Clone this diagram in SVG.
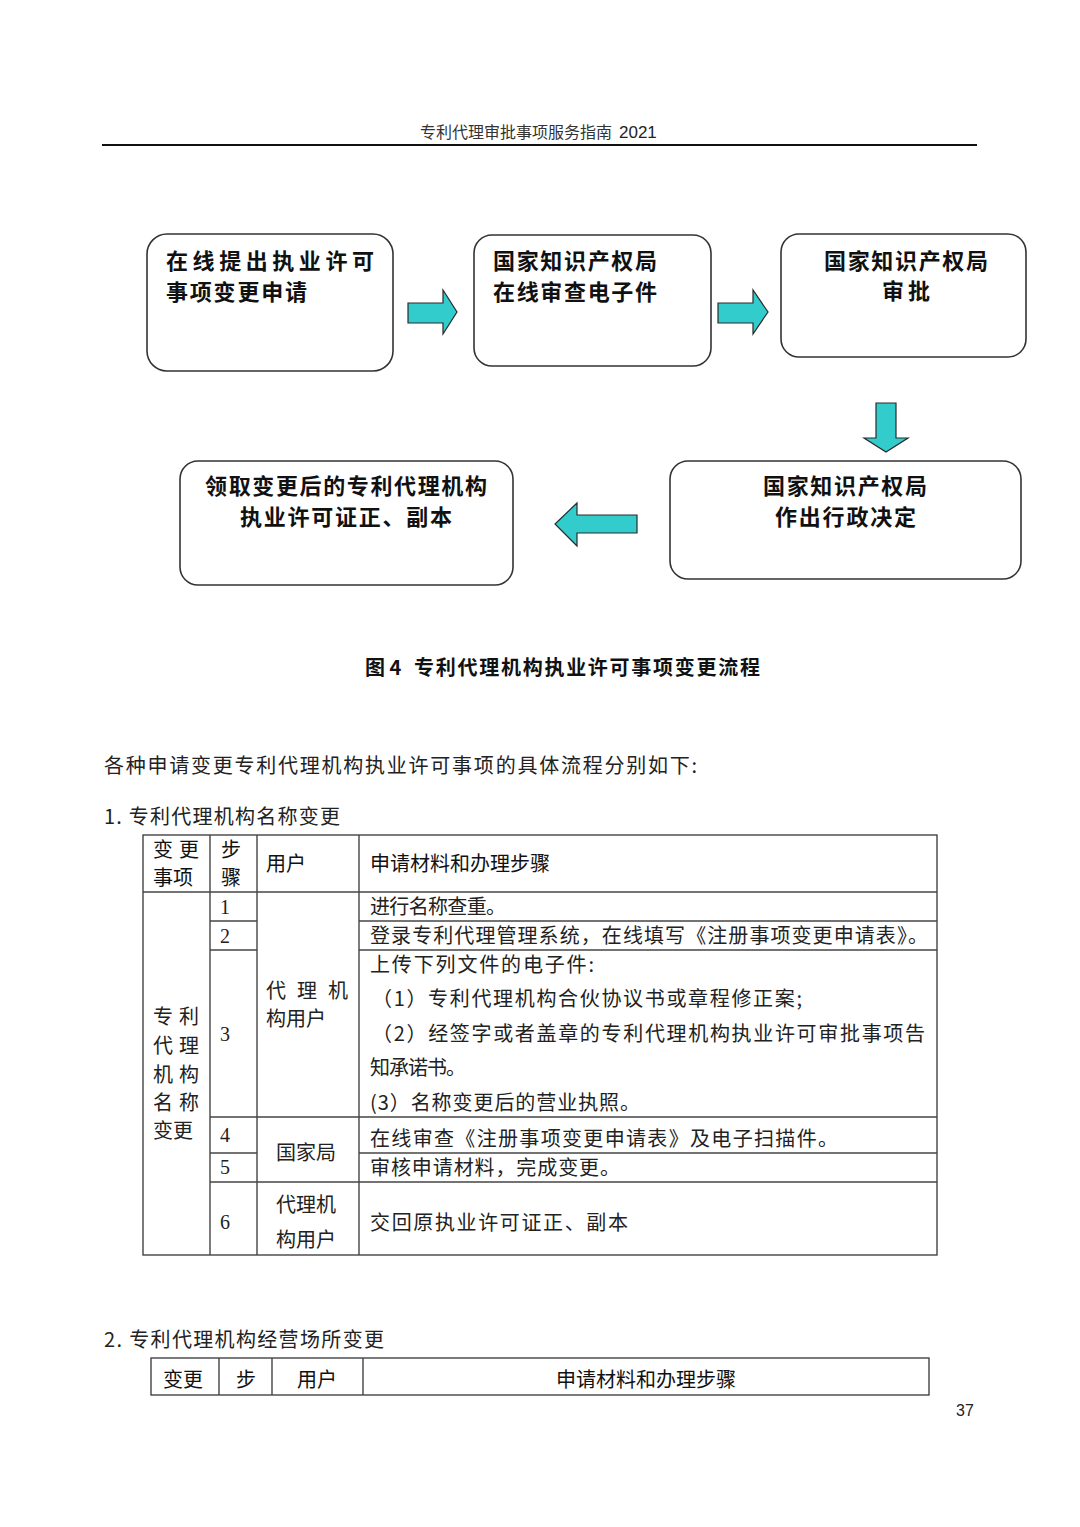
<svg xmlns="http://www.w3.org/2000/svg" width="1080" height="1527" viewBox="0 0 1080 1527">
<style>
.bg{fill:#ffffff}
.box{fill:#ffffff;stroke:#333333;stroke-width:1.6}
.arrow{fill:#33CCCC;stroke:#2a2a2a;stroke-width:1.2;stroke-linejoin:miter}
.ft{font-family:"Noto Sans CJK SC","Noto Sans",sans-serif;font-size:22px;font-weight:bold;fill:#111111}
.hd{font-family:"Noto Sans CJK SC","Noto Sans",sans-serif;font-size:16px;fill:#333333}
.cap{font-family:"Noto Sans CJK SC","Noto Sans",sans-serif;font-size:20px;font-weight:bold;fill:#111111}
.bt{font-family:"Noto Sans CJK SC","Noto Sans",sans-serif;font-size:20px;fill:#222222}
.th{font-family:"Noto Sans CJK SC","Noto Sans",sans-serif;font-size:20px;fill:#111111}
.num{font-family:"Liberation Serif","DejaVu Serif",serif;font-size:20px;fill:#222222}
.tl{stroke:#444444;stroke-width:1.4;fill:none}
</style>
<rect class="bg" x="0" y="0" width="1080" height="1527"/>

<g id="header">
<text class="hd" x="420" y="138" textLength="192" lengthAdjust="spacingAndGlyphs">专利代理审批事项服务指南</text>
<text x="619" y="138" font-family="Liberation Sans, sans-serif" font-size="17" fill="#222">2021</text>
<line x1="102" y1="145" x2="977" y2="145" stroke="#111" stroke-width="2"/>
</g>

<g id="node1">
<rect class="box" x="147" y="234" width="246" height="137" rx="20"/>
<text class="ft" x="166" y="269" textLength="208" lengthAdjust="spacing">在线提出执业许可</text>
<text class="ft" x="166" y="300" textLength="141" lengthAdjust="spacing">事项变更申请</text>
</g>
<g id="node2">
<rect class="box" x="474" y="235" width="237" height="131" rx="18"/>
<text class="ft" x="493" y="269" textLength="164" lengthAdjust="spacing">国家知识产权局</text>
<text class="ft" x="493" y="300" textLength="164" lengthAdjust="spacing">在线审查电子件</text>
</g>
<g id="node3">
<rect class="box" x="781" y="234" width="245" height="123" rx="18"/>
<text class="ft" x="824" y="269" textLength="164" lengthAdjust="spacing">国家知识产权局</text>
<text class="ft" x="882" y="299" textLength="48" lengthAdjust="spacing">审批</text>
</g>
<g id="node4">
<rect class="box" x="670" y="461" width="351" height="118" rx="18"/>
<text class="ft" x="763" y="494" textLength="164" lengthAdjust="spacing">国家知识产权局</text>
<text class="ft" x="775" y="525" textLength="141" lengthAdjust="spacing">作出行政决定</text>
</g>
<g id="node5">
<rect class="box" x="180" y="461" width="333" height="124" rx="18"/>
<text class="ft" x="205" y="494" textLength="282" lengthAdjust="spacing">领取变更后的专利代理机构</text>
<text class="ft" x="240" y="525" textLength="212" lengthAdjust="spacing">执业许可证正、副本</text>
</g>

<g id="connectors">
<polygon class="arrow" points="408,303 443,303 443,290 457,312 443,334 443,323 408,323"/>
<polygon class="arrow" points="718,303 753,303 753,290 768,312 753,334 753,323 718,323"/>
<polygon class="arrow" points="876,403 896,403 896,438 908,438 886,452 864,438 876,438"/>
<polygon class="arrow" points="637,515 577,515 577,503 555,524 577,546 577,533 637,533"/>
</g>

<g id="caption">
<text class="cap" x="365" y="675">图 4</text>
<text class="cap" x="414" y="675" textLength="346" lengthAdjust="spacing">专利代理机构执业许可事项变更流程</text>
</g>

<g id="intro">
<text class="bt" x="104" y="773" textLength="593" lengthAdjust="spacing">各种申请变更专利代理机构执业许可事项的具体流程分别如下:</text>
<text class="bt" x="104" y="824" textLength="236" lengthAdjust="spacing">1. 专利代理机构名称变更</text>
</g>

<g id="table1">
<rect class="tl" x="143" y="835" width="794" height="420"/>
<line class="tl" x1="210" y1="835" x2="210" y2="1255"/>
<line class="tl" x1="257" y1="835" x2="257" y2="1255"/>
<line class="tl" x1="359" y1="835" x2="359" y2="1255"/>
<line class="tl" x1="143" y1="892" x2="937" y2="892"/>
<line class="tl" x1="210" y1="921" x2="257" y2="921"/>
<line class="tl" x1="359" y1="921" x2="937" y2="921"/>
<line class="tl" x1="210" y1="950" x2="257" y2="950"/>
<line class="tl" x1="359" y1="950" x2="937" y2="950"/>
<line class="tl" x1="210" y1="1117" x2="937" y2="1117"/>
<line class="tl" x1="210" y1="1153" x2="257" y2="1153"/>
<line class="tl" x1="359" y1="1153" x2="937" y2="1153"/>
<line class="tl" x1="210" y1="1182" x2="937" y2="1182"/>

<text class="th" x="153" y="857" textLength="46" lengthAdjust="spacing">变更</text>
<text class="th" x="153" y="885">事项</text>
<text class="th" x="221" y="857">步</text>
<text class="th" x="221" y="885">骤</text>
<text class="th" x="266" y="871">用户</text>
<text class="th" x="370" y="871">申请材料和办理步骤</text>

<text class="bt" x="153" y="1024" textLength="46" lengthAdjust="spacing">专利</text>
<text class="bt" x="153" y="1053" textLength="46" lengthAdjust="spacing">代理</text>
<text class="bt" x="153" y="1082" textLength="46" lengthAdjust="spacing">机构</text>
<text class="bt" x="153" y="1110" textLength="46" lengthAdjust="spacing">名称</text>
<text class="bt" x="153" y="1138">变更</text>

<text class="num" x="220" y="914">1</text>
<text class="num" x="220" y="943">2</text>
<text class="num" x="220" y="1041">3</text>
<text class="num" x="220" y="1142">4</text>
<text class="num" x="220" y="1174">5</text>
<text class="num" x="220" y="1229">6</text>

<text class="bt" x="266" y="998" textLength="82" lengthAdjust="spacing">代理机</text>
<text class="bt" x="266" y="1026">构用户</text>
<text class="bt" x="276" y="1160">国家局</text>
<text class="bt" x="276" y="1212">代理机</text>
<text class="bt" x="276" y="1247">构用户</text>

<text class="bt" x="370" y="914" textLength="136" lengthAdjust="spacing">进行名称查重。</text>
<text class="bt" x="370" y="943" textLength="558" lengthAdjust="spacing">登录专利代理管理系统，在线填写《注册事项变更申请表》。</text>
<text class="bt" x="370" y="972" textLength="224" lengthAdjust="spacing">上传下列文件的电子件:</text>
<text class="bt" x="372" y="1006" textLength="430" lengthAdjust="spacing">（1）专利代理机构合伙协议书或章程修正案;</text>
<text class="bt" x="372" y="1041" textLength="553" lengthAdjust="spacing">（2）经签字或者盖章的专利代理机构执业许可审批事项告</text>
<text class="bt" x="370" y="1075" textLength="96" lengthAdjust="spacing">知承诺书。</text>
<text class="bt" x="370" y="1110" textLength="270" lengthAdjust="spacing">(3）名称变更后的营业执照。</text>
<text class="bt" x="370" y="1146" textLength="468" lengthAdjust="spacing">在线审查《注册事项变更申请表》及电子扫描件。</text>
<text class="bt" x="370" y="1175" textLength="250" lengthAdjust="spacing">审核申请材料，完成变更。</text>
<text class="bt" x="370" y="1230" textLength="258" lengthAdjust="spacing">交回原执业许可证正、副本</text>
</g>

<g id="section2">
<text class="bt" x="104" y="1347" textLength="280" lengthAdjust="spacing">2. 专利代理机构经营场所变更</text>
</g>

<g id="table2">
<rect class="tl" x="151" y="1358" width="778" height="37"/>
<line class="tl" x1="219" y1="1358" x2="219" y2="1395"/>
<line class="tl" x1="272" y1="1358" x2="272" y2="1395"/>
<line class="tl" x1="363" y1="1358" x2="363" y2="1395"/>
<text class="th" x="163" y="1387">变更</text>
<text class="th" x="236" y="1387">步</text>
<text class="th" x="297" y="1387">用户</text>
<text class="th" x="646" y="1387" text-anchor="middle">申请材料和办理步骤</text>
</g>

<g id="page">
<text x="956" y="1416" font-family="Liberation Sans, sans-serif" font-size="16" fill="#222">37</text>
</g>
</svg>
